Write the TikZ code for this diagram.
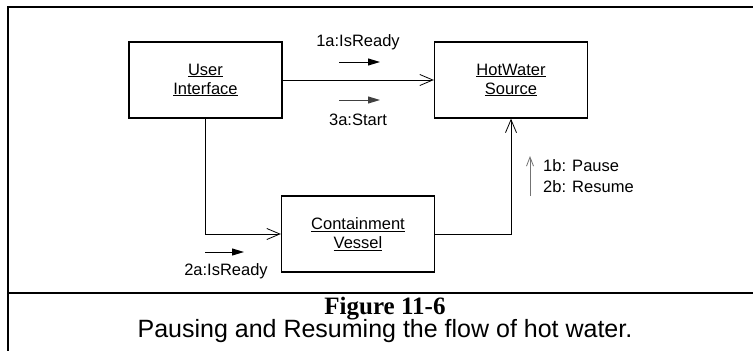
\documentclass[tikz,border=0pt]{standalone}
\usepackage{fontspec}
\setmainfont{Liberation Sans}
\newfontfamily\figserif{Liberation Serif}
\usetikzlibrary{arrows.meta}
\begin{document}
\begin{tikzpicture}[x=1pt,y=-1pt,
  obj/.style={draw, line width=1.3pt, minimum width=153pt, minimum height=76pt, align=center,
    font=\fontsize{16.5}{19}\selectfont, inner sep=0pt},
  link/.style={line width=0.9pt, -{Straight Barb[length=13pt,width=11pt,line width=0.8pt]}},
  msg/.style={line width=1pt, -{Triangle[length=12pt,width=7pt]}},
  msgopen/.style={line width=1pt, draw=black!55, -{Straight Barb[length=9pt,width=7pt,line width=0.8pt]}},
  lbl/.style={font=\fontsize{16.5}{19}\selectfont, inner sep=0pt},
  frame/.style={line width=2.6pt}]
\useasboundingbox (0,0) rectangle (753,351);
% frame
\draw[frame] (753,7) -- (8,7) -- (8,351);
\draw[frame] (8,293) -- (753,293);
% objects
\node[obj] (ui) at (205.5,80) {\underline{User}\\\underline{Interface}};
\node[obj] (hw) at (511,80) {\underline{HotWater}\\\underline{Source}};
\node[obj] (cv) at (358,234) {\underline{Containment}\\\underline{Vessel}};
% links
\draw[link] (ui.east) -- (hw.west);
\draw[link] (ui.south) |- (cv.west);
\draw[link] (cv.east) -| (hw.south);
% messages
\coordinate (a1s) at (339,62); \coordinate (a1e) at (380,62);
\coordinate (a3s) at (339,100); \coordinate (a3e) at (380,100);
\coordinate (a2s) at (205,252); \coordinate (a2e) at (244,252);
\coordinate (b1s) at (530,196); \coordinate (b1e) at (530,156);
\draw[msg] (a1s) -- (a1e);
\draw[msg, draw=black!75, fill=black] (a3s) -- (a3e);
\draw[msg] (a2s) -- (a2e);
\draw[msgopen] (b1s) -- (b1e);
\node[lbl] (l1a) at (358,42) {1a:IsReady};
\node[lbl] (l3a) at (358,120) {3a:Start};
\node[lbl] (l2a) at (226,271) {2a:IsReady};
\node[lbl, anchor=west] (l1b) at (543,166) {1b: Pause};
\node[lbl, anchor=west] (l2b) at (543,187) {2b: Resume};
% caption
\node[font=\figserif\bfseries\fontsize{25}{27}\selectfont, inner sep=0pt, anchor=base] (fig) at (385,314) {Figure 11-6};
\node[font=\fontsize{25}{27}\selectfont, inner sep=0pt, anchor=base] (cap) at (385,337) {Pausing and Resuming the flow of hot water.};
\end{tikzpicture}
\end{document}
